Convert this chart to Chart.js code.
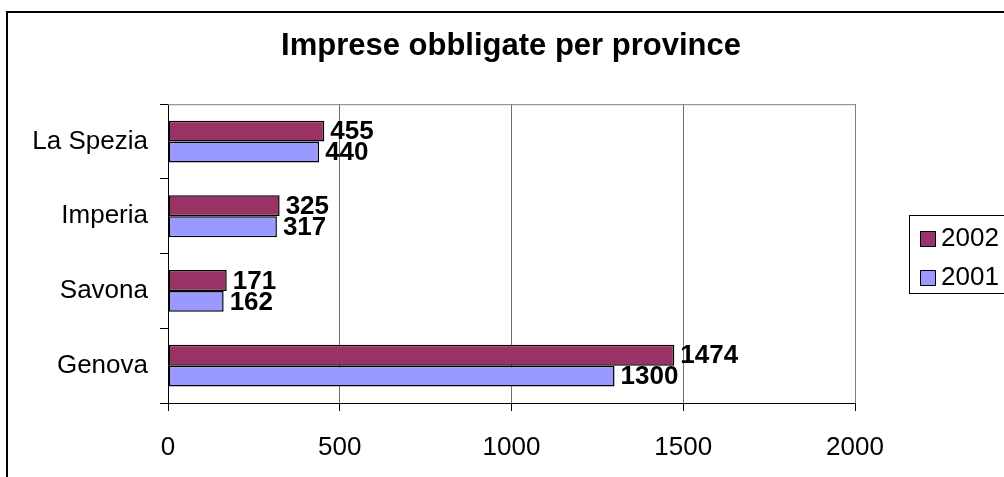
<!DOCTYPE html>
<html>
<head>
<meta charset="utf-8">
<script src="https://cdn.jsdelivr.net/npm/chart.js@4/dist/chart.umd.min.js"></script>
<style>
  body { margin: 0; background: #fff; }
  canvas { display: block; }
</style>
</head>
<body>
<canvas id="barChart" width="1004" height="477"></canvas>
<script>
// data
const province = ['La Spezia', 'Imperia', 'Savona', 'Genova'];
const anni = ['2002', '2001'];
const valori2002 = [455, 325, 171, 1474];
const valori2001 = [440, 317, 162, 1300];
const xTicks = [0, 500, 1000, 1500, 2000];

const FONT = "Arial, 'Liberation Sans', sans-serif";

// frame round the whole picture + plot border
const cornice = {
  id: 'cornice',
  beforeDraw(chart) {
    const ctx = chart.ctx;
    ctx.save();
    ctx.fillStyle = '#fff';
    ctx.fillRect(0, 0, chart.width, chart.height);
    ctx.strokeStyle = '#000';
    ctx.lineWidth = 2;
    ctx.strokeRect(7, 12, 1100, 500);
    ctx.restore();
  },
  beforeDatasetsDraw(chart) {
    const a = chart.chartArea;
    const ctx = chart.ctx;
    ctx.save();
    ctx.strokeStyle = '#808080';
    ctx.lineWidth = 1;
    ctx.beginPath();
    ctx.moveTo(a.left, a.top + 0.5);
    ctx.lineTo(a.right + 0.5, a.top + 0.5);
    ctx.lineTo(a.right + 0.5, a.bottom);
    ctx.stroke();
    ctx.restore();
  }
};

// value labels right of every bar
const etichette = {
  id: 'etichette',
  afterDatasetsDraw(chart) {
    const ctx = chart.ctx;
    ctx.save();
    ctx.font = 'bold 26px ' + FONT;
    ctx.fillStyle = '#000';
    ctx.textAlign = 'left';
    ctx.textBaseline = 'middle';
    chart.data.datasets.forEach((ds, i) => {
      chart.getDatasetMeta(i).data.forEach((bar, j) => {
        ctx.fillText(String(ds.data[j]), bar.x + 6, bar.y + 1);
      });
    });
    ctx.restore();
  }
};

// excel-style legend box on the right
const legenda = {
  id: 'legenda',
  afterDraw(chart) {
    const ctx = chart.ctx;
    const bx = 909, by = 215;
    ctx.save();
    ctx.strokeStyle = '#000';
    ctx.lineWidth = 1;
    ctx.strokeRect(bx + 0.5, by + 0.5, 120, 78);
    ctx.font = '26px ' + FONT;
    ctx.textBaseline = 'middle';
    chart.data.datasets.forEach((ds, i) => {
      const cy = by + 23 + i * 39;
      ctx.fillStyle = ds.backgroundColor;
      ctx.fillRect(bx + 11, cy - 7, 15, 15);
      ctx.strokeRect(bx + 11.5, cy - 6.5, 15, 15);
      ctx.fillStyle = '#000';
      ctx.fillText(ds.label, bx + 32, cy + 1);
    });
    ctx.restore();
  }
};

new Chart(document.getElementById('barChart'), {
  type: 'bar',
  data: {
    labels: province,
    datasets: [
      { label: anni[0], data: valori2002, backgroundColor: '#993366', borderColor: '#000', borderWidth: 1.5, borderSkipped: false },
      { label: anni[1], data: valori2001, backgroundColor: '#9999FF', borderColor: '#000', borderWidth: 1.5, borderSkipped: false }
    ]
  },
  options: {
    indexAxis: 'y',
    responsive: false,
    animation: false,
    datasets: { bar: { categoryPercentage: 0.56, barPercentage: 1 } },
    layout: { padding: { left: 18, right: 0, top: 0, bottom: 0 } },
    plugins: {
      legend: { display: false },
      tooltip: { enabled: false },
      title: {
        display: true,
        text: 'Imprese obbligate per province',
        color: '#000',
        font: { family: FONT, size: 31, weight: 'bold', lineHeight: 1.2 },
        padding: { top: 28, bottom: 39 }
      }
    },
    scales: {
      x: {
        min: 0,
        max: 2000,
        afterFit(s) { s.height = 74; },
        afterBuildTicks(s) { s.ticks = xTicks.map(v => ({ value: v })); },
        grid: { color: '#707070', tickColor: '#000', tickLength: 8, lineWidth: 1 },
        border: { color: '#000' },
        ticks: { color: '#000', padding: 21, font: { family: FONT, size: 26 }, callback: v => String(v) }
      },
      y: {
        afterFit(s) { s.width = 150; },
        grid: { drawOnChartArea: false, tickColor: '#000', tickLength: 8 },
        border: { color: '#000' },
        ticks: { color: '#000', padding: 12, font: { family: FONT, size: 26 } }
      },
      // empty axis on the right, only keeps room for the legend
      yDx: {
        type: 'category',
        position: 'right',
        afterFit(s) { s.width = 149; },
        grid: { display: false },
        border: { display: false },
        ticks: { display: false }
      }
    }
  },
  plugins: [cornice, etichette, legenda]
});
</script>
</body>
</html>
